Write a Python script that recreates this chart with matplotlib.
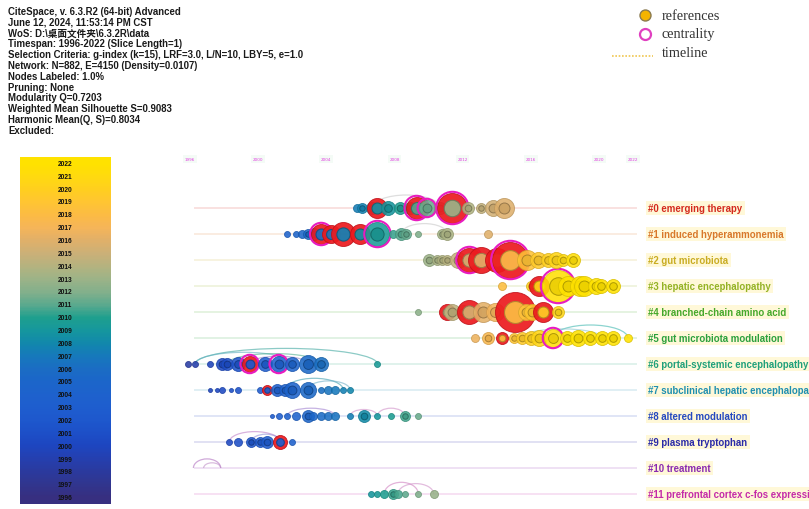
import numpy as np
import matplotlib.pyplot as plt
from matplotlib.colors import LinearSegmentedColormap, to_rgb
from matplotlib.patches import Arc

W, H = 809, 510

# time slices and their colours
slice_years = list(range(1996, 2023))
slice_colors = ["#372F80", "#31368F", "#2B3A9E", "#2540B0", "#1E46C0", "#1D50C8",
                "#1E58CD", "#1F5ECF", "#1E62CD", "#1C66CA", "#1B6DC4", "#1779BC",
                "#1288AC", "#16979E", "#1FA08E", "#5BAA8E", "#83B08C", "#9CB388",
                "#B4B380", "#CBB078", "#E0B06A", "#F5B55A", "#FCBB45", "#FFC533",
                "#FFCF20", "#FFDA10", "#FFE200"]
cmap = LinearSegmentedColormap.from_list("slices", slice_colors)

axis_years = [1996, 2000, 2004, 2008, 2012, 2016, 2020, 2022]

cluster_labels = ["#0 emerging therapy", "#1 induced hyperammonemia", "#2 gut microbiota",
                  "#3 hepatic encephalopathy", "#4 branched-chain amino acid",
                  "#5 gut microbiota modulation", "#6 portal-systemic encephalopathy",
                  "#7 subclinical hepatic encephalopathy", "#8 altered modulation",
                  "#9 plasma tryptophan", "#10 treatment", "#11 prefrontal cortex c-fos expression"]
cluster_colors = ["#D42A1E", "#D8782A", "#C9AC22", "#94B224", "#45A82A", "#2BA03C",
                  "#1FA07A", "#1F8FB0", "#2448C0", "#2A2AA8", "#8A2AB0", "#C42AA8"]
# typical delay (years) between a node's year and the slice that colours it
cluster_lag = [1.5, 2.5, 3, 4, 3, 4, 2.5, 2.5, 2, 2, 2, 2.5]

# node years (per cluster)
node_years = [
    [2005.8, 2006.1, 2006.7, 2007.0, 2007.6, 2008.3, 2008.9, 2009.3, 2009.9, 2010.7, 2011.4, 2012.3, 2013.1, 2013.8, 2014.4],
    [2001.7, 2002.2, 2002.6, 2002.9, 2003.3, 2003.7, 2004.3, 2005.0, 2006.0, 2007.0, 2007.9, 2008.4, 2008.7, 2009.4, 2010.8, 2011.1, 2013.5],
    [2010.0, 2010.5, 2010.8, 2011.1, 2011.7, 2012.4, 2013.1, 2014.0, 2014.8, 2015.8, 2016.4, 2017.0, 2017.5, 2017.9, 2018.5],
    [2014.3, 2016.0, 2016.5, 2017.6, 2018.2, 2018.9, 2019.1, 2019.8, 2020.1, 2020.8],
    [2009.4, 2011.1, 2011.4, 2012.0, 2012.4, 2013.2, 2013.9, 2015.1, 2015.7, 2016.1, 2016.7, 2017.6],
    [2012.7, 2013.5, 2014.3, 2015.0, 2015.5, 2016.0, 2016.5, 2017.3, 2018.1, 2018.8, 2019.5, 2020.2, 2020.8, 2021.7],
    [1995.9, 1996.3, 1997.2, 1997.9, 1998.2, 1998.8, 1999.5, 2000.4, 2001.2, 2002.0, 2002.9, 2003.7, 2007.0],
    [1997.2, 1997.6, 1997.9, 1998.4, 1998.8, 2000.1, 2000.5, 2001.1, 2001.6, 2002.0, 2002.9, 2003.7, 2004.1, 2004.5, 2005.0, 2005.4],
    [2000.8, 2001.2, 2001.7, 2002.2, 2002.9, 2003.2, 2003.7, 2004.1, 2004.5, 2005.4, 2006.2, 2007.0, 2007.8, 2008.6, 2009.4],
    [1998.3, 1998.8, 1999.6, 2000.1, 2000.5, 2001.3, 2002.0],
    [],
    [2006.6, 2007.0, 2007.4, 2007.9, 2008.2, 2008.6, 2009.4, 2010.3],
]
# node radii in pixels (citation counts)
node_radius = [
    [4, 5, 6, 10, 7, 6, 6, 11, 8, 6, 15, 6, 5, 8, 10],
    [3, 3, 4, 5, 6, 10, 9, 12, 10, 12, 4, 6, 5, 3, 5, 6, 4],
    [6, 5, 5, 5, 8, 12, 13, 12, 18, 10, 8, 7, 8, 6, 7],
    [4, 5, 10, 16, 10, 10, 10, 8, 7, 7],
    [3, 8, 8, 7, 12, 10, 9, 20, 8, 8, 10, 6],
    [4, 6, 6, 5, 6, 7, 8, 9, 7, 8, 7, 7, 7, 4],
    [3, 3, 3, 6, 6, 7, 8, 7, 8, 7, 9, 7, 3],
    [2, 2, 3, 2, 3, 3, 5, 6, 6, 8, 8, 3, 4, 4, 3, 3],
    [2, 3, 3, 4, 6, 4, 4, 4, 4, 3, 6, 3, 3, 5, 3],
    [3, 4, 5, 5, 6, 7, 3],
    [],
    [3, 3, 4, 5, 4, 3, 3, 4],
]
# nodes with a citation burst / high centrality (indices)
burst_nodes = [[3, 7, 10], [5, 6, 7, 8], [5, 6, 7, 8], [2], [1, 4, 7, 10], [2],
               [6], [6], [], [5], [], []]
central_nodes = [[7, 8, 10], [5, 9], [5, 8], [3], [], [7], [6, 8], [], [], [], [], []]

# co-citation links drawn as arcs: row, from, to, rise (rows), colour
arc_rows = [0, 1, 5, 5, 6, 6, 6, 6, 7, 7, 8, 8, 8, 9, 9, 10, 10, 11, 11]
arc_from = [2006.7, 2008.4, 2017.3, 2015.5, 1996.3, 1996.3, 1998.2, 1999.5, 2001.6, 2002.9,
            2001.7, 2005.4, 2007.0, 1998.3, 1999.6, 1996.2, 1996.8, 2007.4, 2008.2]
arc_to = [2010.7, 2011.1, 2021.7, 2020.2, 2007.0, 2002.0, 2003.7, 2002.9, 2005.0, 2005.4,
          2004.5, 2007.0, 2008.6, 2001.3, 2001.3, 1997.8, 1997.8, 2009.4, 2010.3]
arc_rise = [0.5, 0.4, 0.5, 0.35, 0.6, 0.45, 0.4, 0.3, 0.45, 0.35,
            0.3, 0.25, 0.3, 0.4, 0.3, 0.35, 0.2, 0.45, 0.4]
arc_colors = ["#C8C8C8", "#C8C8C8", "#40B8B0", "#8CC8D0", "#40A8A0", "#60B0C0", "#50B090", "#9080C8",
              "#40A0B0", "#70B0C8", "#A080D0", "#D090C8", "#D090C8", "#C080C8", "#9090D8",
              "#B070C0", "#C090C8", "#D080C0", "#D090C8"]


def tint(c, k):
    r = np.array(to_rgb(c))
    return tuple(r + (1 - r) * k)


def shade(c, k):
    return tuple(np.array(to_rgb(c)) * k)


def px_axes(x0, y0, x1, y1):
    return fig.add_axes([x0 / W, 1 - y1 / H, (x1 - x0) / W, (y1 - y0) / H])


def area(r):
    return (2 * r * 0.72) ** 2


fig = plt.figure(figsize=(W / 100, H / 100), dpi=100)

# header
header = ("CiteSpace, v. 6.3.R2 (64-bit) Advanced\n"
          "June 12, 2024, 11:53:14 PM CST\n"
          "WoS: D:\\桌面文件夹\\6.3.2R\\data\n"
          "Timespan: 1996-2022 (Slice Length=1)\n"
          "Selection Criteria: g-index (k=15), LRF=3.0, L/N=10, LBY=5, e=1.0\n"
          "Network: N=882, E=4150 (Density=0.0107)\n"
          "Nodes Labeled: 1.0%\n"
          "Pruning: None\n"
          "Modularity Q=0.7203\n"
          "Weighted Mean Silhouette S=0.9083\n"
          "Harmonic Mean(Q, S)=0.8034\n"
          "Excluded:")
fig.text(8 / W, 1 - 7 / H, header, va="top", ha="left", fontsize=6.95, weight="bold",
         family=["Liberation Sans", "Noto Sans CJK SC"], color="#1a1a1a", linespacing=1.1)

# legend
lg = px_axes(600, 0, 740, 70)
lg.set_xlim(600, 740)
lg.set_ylim(70, 0)
lg.axis("off")
lg.scatter([645], [16], s=area(5.5), facecolor="#F5B400", edgecolor="#8A7A50", lw=1.0)
lg.scatter([645], [35], s=area(5.5), facecolor="white", edgecolor="#E040C0", lw=1.6)
lg.plot([612, 653], [57, 57], ls=(0, (1, 1)), color="#F0C650", lw=1.2)
for yy, t in zip([16, 35, 54], ["references", "centrality", "timeline"]):
    lg.text(662, yy, t, va="center", ha="left", fontsize=10.3, family="Liberation Serif",
            color="#333333")

# slice colour bar
cb = px_axes(20, 158, 110, 505)
cb.imshow(np.array(slice_years)[::-1, None], cmap=cmap, aspect="auto",
          extent=(0, 1, slice_years[0] - 0.5, slice_years[-1] + 0.5), interpolation="bilinear")
cb.set_xlim(0, 1)
cb.set_ylim(slice_years[0] - 0.5, slice_years[-1] + 0.5)
cb.axis("off")
for yr in slice_years:
    cb.text(0.5, yr, str(yr), ha="center", va="center", fontsize=4.8, weight="bold",
            family="Liberation Sans", color="#111111")

# timeline view
ax = px_axes(190, 196, 633, 508)
ax.set_xlim(1996, 2022)
ax.set_ylim(11.5, -0.5)
ax.axis("off")

for yr in axis_years:
    ax.text(yr, -1.88, str(yr), ha="center", va="center", fontsize=3, color="#E040E0",
            clip_on=False, bbox=dict(boxstyle="square,pad=0.4", fc="#F4FBF6", ec="none"))

for i, col in enumerate(cluster_colors):
    ax.plot([1996.3, 2022.2], [i, i], color=tint(col, 0.86), lw=1.4, zorder=1, clip_on=False)
    fig.text(648 / W, 1 - (209 + 26 * i) / H, cluster_labels[i], ha="left", va="center",
             fontsize=6.9, weight="bold", family="Liberation Sans", color=col,
             bbox=dict(boxstyle="square,pad=0.25", fc="#FFF3B8", ec="none", alpha=0.55))

for r, a, b, h, c in zip(arc_rows, arc_from, arc_to, arc_rise, arc_colors):
    ax.add_patch(Arc(((a + b) / 2, r), b - a, 2 * h, theta1=180, theta2=360, color=c,
                     lw=0.9, alpha=0.6, zorder=2, clip_on=False))

for i in range(len(node_years)):
    for j, (yr, rad) in enumerate(zip(node_years[i], node_radius[i])):
        col = cmap(np.clip((yr + cluster_lag[i] - 1996) / 26, 0, 1))
        z = 3 + j * 0.01
        if j in burst_nodes[i]:
            ax.scatter(yr, i, s=area(rad), facecolor="#EC1A1E", edgecolor="#C01018", lw=0.6,
                       alpha=0.92, zorder=z, clip_on=False)
            ax.scatter(yr, i, s=area(rad * 0.55), facecolor=col, edgecolor=shade(col, 0.7),
                       lw=0.8, alpha=0.92, zorder=z, clip_on=False)
        else:
            ax.scatter(yr, i, s=area(rad), facecolor=col, edgecolor=shade(col, 0.85),
                       lw=0.6, alpha=0.88, zorder=z, clip_on=False)
            if rad >= 5:
                ax.scatter(yr, i, s=area(rad * 0.55), facecolor=shade(col, 0.92),
                           edgecolor=shade(col, 0.65), lw=0.7, alpha=0.9, zorder=z,
                           clip_on=False)
        if j in central_nodes[i]:
            ax.scatter(yr, i, s=area(rad + 1.2), facecolor="none", edgecolor="#E81CC0", lw=1.5,
                       zorder=z, clip_on=False)

fig.savefig("out.png", dpi=100)
